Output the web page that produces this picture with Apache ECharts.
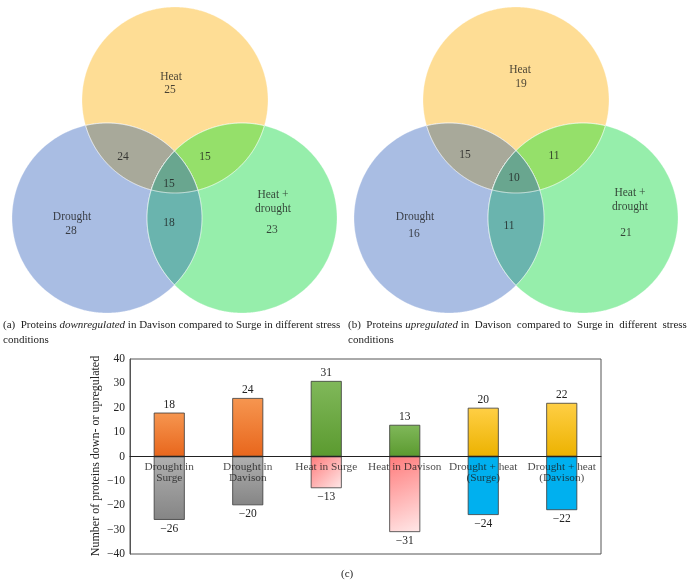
<!DOCTYPE html>
<html><head><meta charset="utf-8">
<script src="https://cdn.jsdelivr.net/npm/echarts@6/dist/echarts.min.js"></script>
<style>html,body{margin:0;padding:0;background:#fff}#c{width:687px;height:584px}</style>
</head><body><div id="c"></div>
<script>
// ---------- DATA ----------
const vennRegionNames = ['Heat', 'Drought', 'Heat +\ndrought', 'Heat ∩ Drought', 'Heat ∩ Heat+drought', 'Drought ∩ Heat+drought', 'All three'];
const vennDownCounts = [25, 28, 23, 24, 15, 18, 15];   // (a) downregulated
const vennUpCounts = [19, 16, 21, 15, 11, 11, 10];     // (b) upregulated
const barCategories = ['Drought in\nSurge', 'Drought in\nDavison', 'Heat in Surge', 'Heat in Davison', 'Drought + heat\n(Surge)', 'Drought + heat\n(Davison)'];
const barUp = [18, 24, 31, 13, 20, 22];
const barDown = [-26, -20, -13, -31, -24, -22];
const yTickMin = -40, yTickMax = 40, yTickStep = 10;
const yAxisTitle = 'Number of proteins down- or upregulated';

// ---------- LAYOUT / STYLE ----------
const FONT = '"Liberation Serif", "DejaVu Serif", serif';
// circles [cx, cy, r] in the pixel-like units of the hidden Venn grid
const vennLayouts = [
  {circles: [[175, 100, 93], [107, 218, 95], [242, 218, 95]],
   name: [[171, 77], [72, 217], [273, 202]], num: [[170, 90], [71, 231], [272, 230]],
   inter: [[123, 157], [205, 157], [169, 223], [169, 184]]},
  {circles: [[516, 100, 93], [449, 218, 95], [583, 218, 95]],
   name: [[520, 70], [415, 217], [630, 200]], num: [[521, 84], [414, 234], [626, 233]],
   inter: [[465, 155], [554, 156], [509, 226], [514, 178]]}
];
// region i -> list of circle indices whose intersection forms it
const regionSets = [[0], [1], [2], [0, 1], [0, 2], [1, 2], [0, 1, 2]];
const regionColors = ['#fedd95', '#a9bde3', '#96eeab', '#a8a99a', '#95e06a', '#6ab4ae', '#69a68f'];

const upStyles = [
  ['#f69650', '#e8661c'], ['#f69650', '#e8661c'],
  ['#80b85a', '#5b9a2f'], ['#80b85a', '#5b9a2f'],
  ['#ffcf45', '#ecb200'], ['#ffcf45', '#ecb200']
];
const downStyles = ['gray', 'gray', 'pink', 'pink', 'blue', 'blue'];

function grad(type) {
  if (type === 'gray') return new echarts.graphic.LinearGradient(0, 0, 0, 1, [{offset: 0, color: '#b0b0b0'}, {offset: 1, color: '#858585'}]);
  if (type === 'pink') return new echarts.graphic.LinearGradient(0, 0, 1, 1, [{offset: 0, color: '#ff7b7b'}, {offset: 1, color: '#ffe8e8'}]);
  return '#00b0ef';
}

const chart = echarts.init(document.getElementById('c'), null, {renderer: 'canvas'});

// build venn region data: [vennIndex, regionIndex]
const vennData = [];
for (let v = 0; v < 2; v++) for (let r = 0; r < 7; r++) vennData.push([v, r]);

function regionRender(params, api) {
  const v = api.value(0), r = api.value(1);
  const lay = vennLayouts[v];
  const cs = regionSets[r].map(i => {
    const c = lay.circles[i];
    const p = api.coord([c[0], c[1]]);
    const q = api.coord([c[0] + c[2], c[1]]);
    return [p[0], p[1], Math.abs(q[0] - p[0])];
  });
  let ix = 0, iy = 0;
  cs.forEach(c => { ix += c[0]; iy += c[1]; });
  ix /= cs.length; iy /= cs.length;
  const pts = [];
  const N = 720;
  for (let k = 0; k < N; k++) {
    const a = 2 * Math.PI * k / N;
    const dx = Math.cos(a), dy = Math.sin(a);
    let tmin = Infinity;
    cs.forEach(c => {
      const ox = ix - c[0], oy = iy - c[1];
      const b = ox * dx + oy * dy;
      const cc = ox * ox + oy * oy - c[2] * c[2];
      const t = -b + Math.sqrt(Math.max(0, b * b - cc));
      if (t < tmin) tmin = t;
    });
    pts.push([ix + dx * tmin, iy + dy * tmin]);
  }
  return {
    type: 'polygon',
    shape: {points: pts},
    style: {fill: regionColors[r], stroke: r < 3 ? 'rgba(255,255,255,0.5)' : 'rgba(255,255,255,0.75)', lineWidth: r < 3 ? 0.6 : 1}
  };
}

// venn labels
const vennLabelData = [];
[vennDownCounts, vennUpCounts].forEach((counts, v) => {
  const lay = vennLayouts[v];
  for (let i = 0; i < 3; i++) {
    vennLabelData.push({value: [lay.name[i][0], lay.name[i][1]], text: vennRegionNames[i]});
    vennLabelData.push({value: [lay.num[i][0], lay.num[i][1]], text: String(counts[i])});
  }
  for (let i = 3; i < 7; i++) {
    vennLabelData.push({value: [lay.inter[i - 3][0], lay.inter[i - 3][1]], text: String(counts[i])});
  }
});

const minus = v => (v < 0 ? '\u2212' + Math.abs(v) : String(v));

const option = {
  animation: false,
  backgroundColor: '#ffffff',
  textStyle: {fontFamily: FONT},
  title: {
    text: '(c)', left: 336, top: 564,
    textStyle: {fontFamily: FONT, fontSize: 11, fontWeight: 'normal', color: '#222'}
  },
  grid: [
    {left: 0, top: 0, width: 687, height: 320, show: false},
    {left: 130, top: 359, width: 471, height: 195, show: true, borderColor: '#555', borderWidth: 1, backgroundColor: 'transparent'}
  ],
  xAxis: [
    {gridIndex: 0, type: 'value', min: 0, max: 687, show: false},
    {gridIndex: 1, type: 'category', data: barCategories, z: 10,
     axisLine: {onZero: true, lineStyle: {color: '#222', width: 1}},
     axisTick: {show: false},
     axisLabel: {show: false}}
  ],
  yAxis: [
    {gridIndex: 0, type: 'value', min: 0, max: 320, inverse: true, show: false},
    {gridIndex: 1, type: 'value', min: yTickMin, max: yTickMax, interval: yTickStep,
     axisLine: {show: true, lineStyle: {color: '#555'}},
     axisTick: {show: false},
     splitLine: {show: false},
     axisLabel: {fontFamily: FONT, fontSize: 11.5, color: '#222', margin: 5, formatter: minus}}
  ],
  graphic: [
    {type: 'text', left: 3, top: 318, style: {
      text: '(a)  Proteins {i|downregulated} in Davison compared to Surge in different stress\nconditions',
      font: '11px ' + FONT, fill: '#222', lineHeight: 15,
      rich: {i: {fontStyle: 'italic', fontFamily: FONT, fontSize: 11, fill: '#222'}}
    }},
    {type: 'text', left: 348, top: 318, style: {
      text: '(b)  Proteins {i|upregulated} in  Davison  compared to  Surge in  different  stress\nconditions',
      font: '11px ' + FONT, fill: '#222', lineHeight: 15,
      rich: {i: {fontStyle: 'italic', fontFamily: FONT, fontSize: 11, fill: '#222'}}
    }},
    {type: 'text', x: 96, y: 456, rotation: Math.PI / 2, style: {
      text: yAxisTitle, font: '12px ' + FONT, fill: '#222',
      align: 'center', verticalAlign: 'middle'
    }}
  ],
  series: [
    {type: 'custom', xAxisIndex: 0, yAxisIndex: 0, coordinateSystem: 'cartesian2d',
     renderItem: regionRender, data: vennData, silent: true, z: 1},
    {type: 'scatter', xAxisIndex: 0, yAxisIndex: 0, symbolSize: 0, silent: true, z: 3,
     data: vennLabelData,
     label: {show: true, position: 'inside', formatter: p => p.data.text,
       fontFamily: FONT, fontSize: 11.5, color: '#1a1a1a', lineHeight: 14}},
    {type: 'bar', xAxisIndex: 1, yAxisIndex: 1, barWidth: 31, barGap: '-100%', z: 2,
     data: barUp.map((v, i) => ({value: v, itemStyle: {
       color: new echarts.graphic.LinearGradient(0, 0, 0, 1, [{offset: 0, color: upStyles[i][0]}, {offset: 1, color: upStyles[i][1]}]),
       borderColor: '#3a3a3a', borderWidth: 0.8}})),
     label: {show: true, position: 'top', distance: 2, fontFamily: FONT, fontSize: 11.5, color: '#222', formatter: p => minus(p.value)}},
    {type: 'bar', xAxisIndex: 1, yAxisIndex: 1, barWidth: 31, barGap: '-100%', z: 2,
     data: barDown.map((v, i) => ({value: v, itemStyle: {
       color: grad(downStyles[i]), borderColor: '#3a3a3a', borderWidth: 0.8}})),
     label: {show: true, position: 'bottom', distance: 3, fontFamily: FONT, fontSize: 11.5, color: '#222', formatter: p => minus(p.value)}},
    // category labels sitting just under the zero line, drawn over the bars
    {type: 'scatter', xAxisIndex: 1, yAxisIndex: 1, symbolSize: 0, silent: true, z: 20,
     data: barCategories.map(c => [c, 0]),
     label: {show: true, position: 'bottom', distance: 5, formatter: p => p.value[0],
       fontFamily: FONT, fontSize: 11.3, color: '#1a1a1a', lineHeight: 11}}
  ]
};
chart.setOption(option);
</script></body></html>
